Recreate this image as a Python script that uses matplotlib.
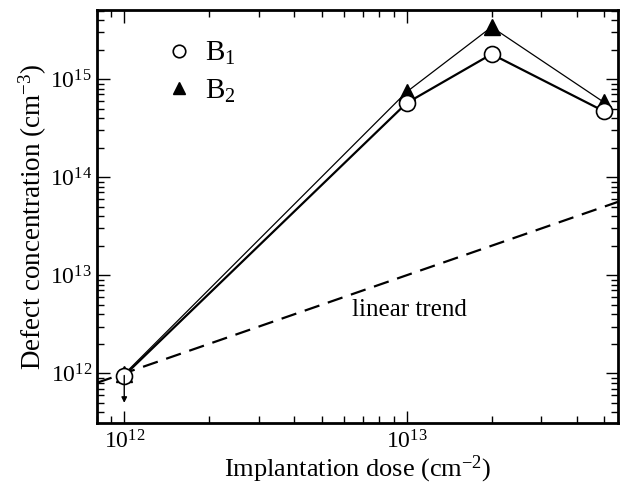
import numpy as np
import matplotlib
matplotlib.use("Agg")
import matplotlib.pyplot as plt
from matplotlib.ticker import LogLocator, LogFormatterMathtext, NullFormatter

plt.rcParams['font.family'] = ['Liberation Serif', 'DejaVu Serif']
plt.rcParams['mathtext.fontset'] = 'custom'
plt.rcParams['mathtext.rm'] = 'Liberation Serif'
plt.rcParams['mathtext.it'] = 'Liberation Serif:italic'
plt.rcParams['mathtext.bf'] = 'Liberation Serif:bold'

# data
dose = [1e12, 1e13, 2e13, 5e13]
b1 = [9.5e11, 5.7e14, 1.8e15, 4.7e14]
b2 = [9.8e11, 7.4e14, 3.4e15, 5.8e14]
trend_dose = [8e11, 5.6e13]
trend_conc = [8e11, 5.6e13]
upper_limit_tip = 5.0e11

fig = plt.figure(figsize=(6.21, 4.87), dpi=100)
ax = fig.add_axes([0.156, 0.131, 0.839, 0.849])

ax.plot(dose, b1, '-', color='black', lw=1.6, marker='o', ms=11.5,
        mfc='white', mec='black', mew=1.2, label=r'$\mathrm{B}_1$', zorder=3)
ax.plot(dose, b2, '-', color='black', lw=0.9, marker='^', ms=11,
        mfc='black', mec='black', label=r'$\mathrm{B}_2$', zorder=2)
ax.plot(trend_dose, trend_conc, '--', color='black', lw=1.6, dashes=(7, 4))

ax.annotate('', xy=(dose[0], upper_limit_tip), xytext=(dose[0], b1[0]),
            arrowprops=dict(arrowstyle='-|>', color='black', lw=1,
                            mutation_scale=8, shrinkA=0, shrinkB=0))

ax.text(6.4e12, 4.4e12, 'linear trend', fontsize=18, ha='left', va='center')

ax.set_xscale('log')
ax.set_yscale('log')
ax.set_xlim(8e11, 5.6e13)
ax.set_ylim(3.1e11, 5.1e15)

ax.xaxis.set_major_locator(LogLocator(base=10))
ax.xaxis.set_minor_locator(LogLocator(base=10, subs=np.arange(2, 10)))
ax.xaxis.set_minor_formatter(NullFormatter())
ax.yaxis.set_major_formatter(LogFormatterMathtext())
ax.yaxis.set_minor_formatter(NullFormatter())

ax.tick_params(which='both', direction='in', top=True, right=True, labelsize=17)
ax.tick_params(which='major', length=9, width=1)
ax.tick_params(which='minor', length=5, width=1)
ax.tick_params(axis='x', which='major', pad=5)
for s in ax.spines.values():
    s.set_linewidth(2)

ax.set_xlabel(r'Implantation dose (cm$^{-2}$)', fontsize=19, labelpad=0.5)
ax.set_ylabel(r'Defect concentration (cm$^{-3}$)', fontsize=19.5, labelpad=1)

leg = ax.legend(loc='upper left', bbox_to_anchor=(0.085, 0.99), frameon=False,
                fontsize=21, handlelength=0.8, handletextpad=0.5,
                labelspacing=0.35, numpoints=1)
for h in leg.legend_handles:
    h.set_linestyle('None')
    h.set_markersize(9)

fig.savefig('out.png', dpi=100)
